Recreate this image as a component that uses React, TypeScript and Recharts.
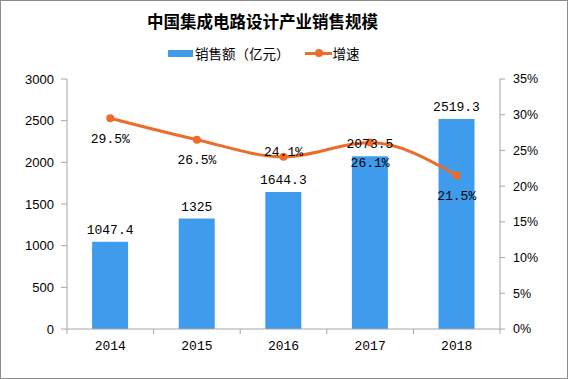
import React from 'react';
import { ComposedChart, Bar, Line, XAxis, YAxis, LabelList } from 'recharts';

const years = ['2014', '2015', '2016', '2017', '2018'];
const sales = [1047.4, 1325, 1644.3, 2073.5, 2519.3];
const growth = [29.5, 26.5, 24.1, 26.1, 21.5];
const salesTicks = [0, 500, 1000, 1500, 2000, 2500, 3000];
const growthTicks = [0, 5, 10, 15, 20, 25, 30, 35];

const data = years.map((year, i) => ({ year, sales: sales[i], growth: growth[i] }));

const BAR_COLOR = '#3f9ced';
const LINE_COLOR = '#ee6c2a';
const AXIS_COLOR = '#a6a6a6';
const CJK = '"Noto Sans CJK SC", sans-serif';
const MONO = '"Liberation Mono", monospace';
const SANS = '"Liberation Sans", Arial, sans-serif';

const TICK_SIZE = 5;
const TICK_MARGIN = 5;

// Excel style: tick marks sit between the categories, not under them
const YearTick = (props: any) => {
  const { x, y, payload, index, width, visibleTicksCount } = props;
  const n = visibleTicksCount || years.length;
  const band = (width || 433) / n;
  const axisY = y - TICK_SIZE - TICK_MARGIN;
  const left = x - band / 2;
  return (
    <g>
      <line x1={left} x2={left} y1={axisY} y2={axisY + TICK_SIZE} stroke={AXIS_COLOR} />
      {index === n - 1 && (
        <line x1={left + band} x2={left + band} y1={axisY} y2={axisY + TICK_SIZE} stroke={AXIS_COLOR} />
      )}
      <text x={x} y={y + 11} textAnchor="middle" fill="#000" fontSize={13} fontFamily={MONO}>
        {payload.value}
      </text>
    </g>
  );
};

// growth labels sit under the points, except 2016 which the original puts on the line
const GrowthLabel = (props: any) => {
  const { x, y, value, index } = props;
  const above = years[index] === '2016';
  return (
    <text
      x={x}
      y={above ? y - 5 : y + 20}
      dy="0.35em"
      textAnchor="middle"
      fill="#000"
      fontSize={13}
      fontFamily={MONO}
    >
      {`${value}%`}
    </text>
  );
};

export default function App() {
  return (
    <div style={{ position: 'absolute', left: 0, top: 0, width: 568, height: 379, background: '#fff' }}>
      <div
        style={{
          position: 'absolute', left: 0, top: 10, width: 525, textAlign: 'center',
          fontFamily: CJK, fontWeight: 700, fontSize: 16.5, color: '#000', lineHeight: '22px',
        }}
      >
        中国集成电路设计产业销售规模
      </div>
      <div style={{ position: 'absolute', left: 168, top: 43, height: 20, display: 'flex', alignItems: 'center', fontFamily: CJK, fontSize: 13.5, color: '#000' }}>
        <span style={{ display: 'inline-block', width: 25, height: 7, background: BAR_COLOR, marginRight: 2 }} />
        <span>销售额（亿元）</span>
        <span style={{ position: 'relative', display: 'inline-block', width: 27, height: 3, background: LINE_COLOR, marginLeft: 15, marginRight: 1 }}>
          <span style={{ position: 'absolute', left: 10, top: -3, width: 8, height: 8, borderRadius: 4, background: LINE_COLOR }} />
        </span>
        <span>增速</span>
      </div>
      <ComposedChart width={568} height={379} data={data} margin={{ top: 79, right: 0, left: 0, bottom: 0 }} barCategoryGap="29%">
        <XAxis
          dataKey="year"
          height={50}
          stroke={AXIS_COLOR}
          tickLine={false}
          tickSize={TICK_SIZE}
          tickMargin={TICK_MARGIN}
          tick={<YearTick />}
          interval={0}
        />
        <YAxis
          yAxisId="left"
          width={67}
          domain={[0, 3000]}
          ticks={salesTicks}
          stroke={AXIS_COLOR}
          tickSize={6}
          tickMargin={7}
          tick={{ fill: '#000', fontSize: 13, fontFamily: SANS }}
          interval={0}
        />
        <YAxis
          yAxisId="right"
          orientation="right"
          width={68}
          domain={[0, 35]}
          ticks={growthTicks}
          stroke={AXIS_COLOR}
          tickSize={5}
          tickMargin={8}
          tickFormatter={(v: number) => `${v}%`}
          tick={{ fill: '#000', fontSize: 12.5, fontFamily: SANS }}
          interval={0}
        />
        <Bar yAxisId="left" dataKey="sales" fill={BAR_COLOR} isAnimationActive={false}>
          <LabelList dataKey="sales" position="top" offset={8} fill="#000" fontSize={13} fontFamily={MONO} />
        </Bar>
        <Line
          yAxisId="right"
          dataKey="growth"
          type="monotone"
          stroke={LINE_COLOR}
          strokeWidth={3}
          dot={{ r: 4, fill: LINE_COLOR, stroke: LINE_COLOR, strokeWidth: 0 }}
          isAnimationActive={false}
        >
          <LabelList dataKey="growth" content={<GrowthLabel />} />
        </Line>
      </ComposedChart>
      <div style={{ position: 'absolute', left: 0, top: 0, width: 568, height: 379, boxSizing: 'border-box', border: '1px solid #8c8c8c', pointerEvents: 'none' }} />
    </div>
  );
}
